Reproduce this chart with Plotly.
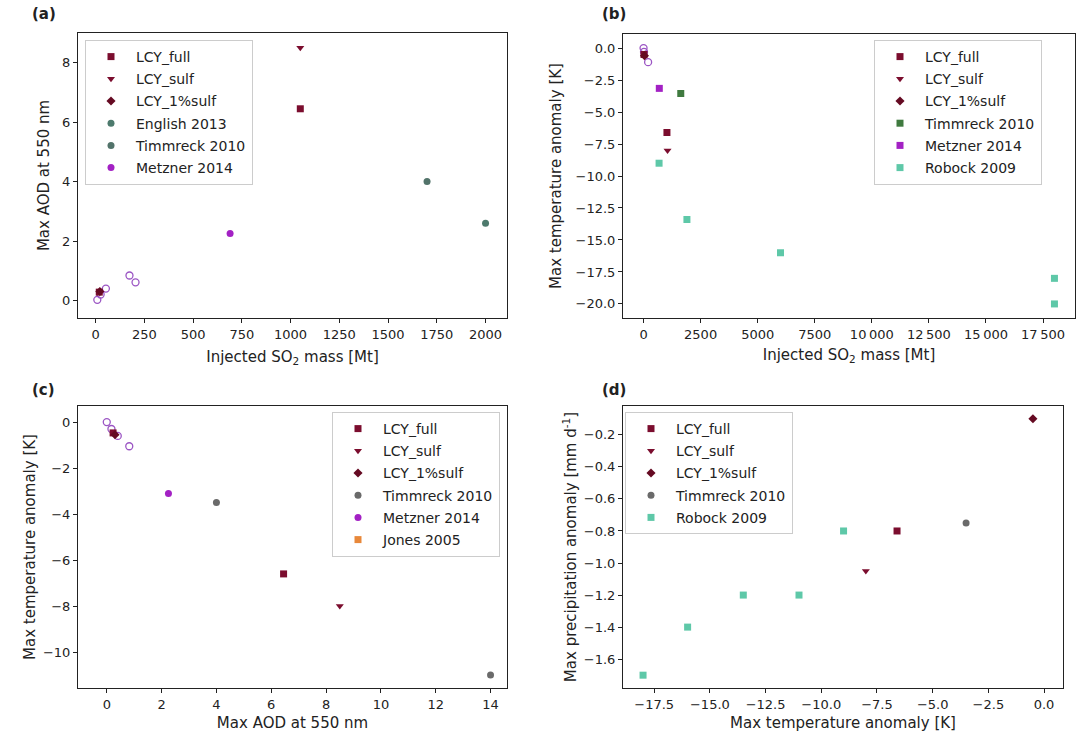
import plotly.graph_objects as go

# ---------------- data ----------------
# panel (a): injected SO2 [Mt] vs max AOD
a_full_so2 = [1050, 19]
a_full_aod = [6.45, 0.28]
a_sulf_so2 = [1050]
a_sulf_aod = [8.5]
a_1pc_so2 = [22]
a_1pc_aod = [0.3]
a_english_so2 = [2000]
a_english_aod = [2.6]
a_timm_so2 = [1700]
a_timm_aod = [4.0]
a_metz_so2 = [690]
a_metz_aod = [2.25]
a_open_so2 = [9, 26, 53, 174, 205]
a_open_aod = [0.02, 0.2, 0.4, 0.84, 0.61]

# panel (b): injected SO2 [Mt] vs max temperature anomaly
b_full_so2 = [1025, 20]
b_full_dT = [-6.6, -0.5]
b_sulf_so2 = [1050]
b_sulf_dT = [-8.0]
b_1pc_so2 = [40]
b_1pc_dT = [-0.6]
b_timm_so2 = [1630]
b_timm_dT = [-3.55]
b_metz_so2 = [690]
b_metz_dT = [-3.15]
b_open_so2 = [0, 20, 200]
b_open_dT = [0.0, -0.3, -1.1]
b_robock_so2 = [680, 1900, 6000, 18000, 18000]
b_robock_dT = [-9.0, -13.4, -16.0, -18.0, -20.0]

# panel (c): max AOD vs max temperature anomaly
c_full_aod = [6.45, 0.23]
c_full_dT = [-6.6, -0.47]
c_sulf_aod = [8.5]
c_sulf_dT = [-8.0]
c_1pc_aod = [0.3]
c_1pc_dT = [-0.55]
c_timm_aod = [4.0, 14.0]
c_timm_dT = [-3.5, -11.0]
c_metz_aod = [2.25]
c_metz_dT = [-3.1]
c_open_aod = [0.0, 0.17, 0.4, 0.82]
c_open_dT = [0.0, -0.3, -0.6, -1.05]
c_jones_aod = []
c_jones_dT = []

# panel (d): max temperature anomaly vs max precipitation anomaly
d_full_dT = [-6.6]
d_full_P = [-0.8]
d_sulf_dT = [-8.0]
d_sulf_P = [-1.05]
d_1pc_dT = [-0.5]
d_1pc_P = [-0.1]
d_timm_dT = [-3.5]
d_timm_P = [-0.75]
d_robock_dT = [-18.0, -16.0, -13.5, -11.0, -9.0]
d_robock_P = [-1.7, -1.4, -1.2, -1.2, -0.8]

b_xticks = [0, 2500, 5000, 7500, 10000, 12500, 15000, 17500]
b_xticktext = ["0", "2500", "5000", "7500", "10\u2009000", "12\u2009500", "15\u2009000", "17\u2009500"]

# ---------------- styles ----------------
MAROON = "#7b0d2e"
DARK = "#650a22"
METZ = "#a321c4"
OPEN = "#9b55c4"
TIMM_A = "#52736a"
ENGL = "#4d7a6d"
TIMM_B = "#3f7a3f"
ROBOCK = "#5ec8a8"
TIMM_CD = "#6a6a6a"
JONES = "#e8883a"
MS = 7
FONT = "DejaVu Sans"

fig = go.Figure()


def add(x, y, name, color, symbol, xa, ya, legend, show=True, open_=False):
    if len(x) == 0:
        x, y = [None], [None]
    if open_:
        marker = dict(color=color, symbol="circle-open", size=MS, line=dict(width=1.3))
    else:
        marker = dict(color=color, symbol=symbol, size=MS, line=dict(width=0))
    fig.add_trace(go.Scatter(x=x, y=y, mode="markers", name=name, marker=marker,
                             xaxis=xa, yaxis=ya, legend=legend, showlegend=show,
                             legendgroup=legend + name))


# (a)
add(a_open_so2, a_open_aod, "open", OPEN, "circle", "x", "y", "legend", show=False, open_=True)
add(a_full_so2, a_full_aod, "LCY_full", MAROON, "square", "x", "y", "legend")
add(a_sulf_so2, a_sulf_aod, "LCY_sulf", MAROON, "triangle-down", "x", "y", "legend")
add(a_1pc_so2, a_1pc_aod, "LCY_1%sulf", DARK, "diamond", "x", "y", "legend")
add(a_english_so2, a_english_aod, "English 2013", ENGL, "circle", "x", "y", "legend")
add(a_timm_so2, a_timm_aod, "Timmreck 2010", TIMM_A, "circle", "x", "y", "legend")
add(a_metz_so2, a_metz_aod, "Metzner 2014", METZ, "circle", "x", "y", "legend")

# (b)
add(b_open_so2, b_open_dT, "open", OPEN, "circle", "x2", "y2", "legend2", show=False, open_=True)
add(b_full_so2, b_full_dT, "LCY_full", MAROON, "square", "x2", "y2", "legend2")
add(b_sulf_so2, b_sulf_dT, "LCY_sulf", MAROON, "triangle-down", "x2", "y2", "legend2")
add(b_1pc_so2, b_1pc_dT, "LCY_1%sulf", DARK, "diamond", "x2", "y2", "legend2")
add(b_timm_so2, b_timm_dT, "Timmreck 2010", TIMM_B, "square", "x2", "y2", "legend2")
add(b_metz_so2, b_metz_dT, "Metzner 2014", METZ, "square", "x2", "y2", "legend2")
add(b_robock_so2, b_robock_dT, "Robock 2009", ROBOCK, "square", "x2", "y2", "legend2")

# (c)
add(c_open_aod, c_open_dT, "open", OPEN, "circle", "x3", "y3", "legend3", show=False, open_=True)
add(c_full_aod, c_full_dT, "LCY_full", MAROON, "square", "x3", "y3", "legend3")
add(c_sulf_aod, c_sulf_dT, "LCY_sulf", MAROON, "triangle-down", "x3", "y3", "legend3")
add(c_1pc_aod, c_1pc_dT, "LCY_1%sulf", DARK, "diamond", "x3", "y3", "legend3")
add(c_timm_aod, c_timm_dT, "Timmreck 2010", TIMM_CD, "circle", "x3", "y3", "legend3")
add(c_metz_aod, c_metz_dT, "Metzner 2014", METZ, "circle", "x3", "y3", "legend3")
add(c_jones_aod, c_jones_dT, "Jones 2005", JONES, "square", "x3", "y3", "legend3")

# (d)
add(d_full_dT, d_full_P, "LCY_full", MAROON, "square", "x4", "y4", "legend4")
add(d_sulf_dT, d_sulf_P, "LCY_sulf", MAROON, "triangle-down", "x4", "y4", "legend4")
add(d_1pc_dT, d_1pc_P, "LCY_1%sulf", DARK, "diamond", "x4", "y4", "legend4")
add(d_timm_dT, d_timm_P, "Timmreck 2010", TIMM_CD, "circle", "x4", "y4", "legend4")
add(d_robock_dT, d_robock_P, "Robock 2009", ROBOCK, "square", "x4", "y4", "legend4")

W, H = 1083, 735


def px_x(a, b):
    return [a / W, b / W]


def px_y(top, bottom):
    return [1 - bottom / H, 1 - top / H]


axis_common = dict(showline=True, linecolor="#222", linewidth=1, mirror=True,
                   ticks="outside", ticklen=4, tickcolor="#222", showgrid=False,
                   zeroline=False, tickfont=dict(size=13, color="#222", family=FONT),
                   title_font=dict(size=15, color="#222", family=FONT))

fig.update_layout(
    width=W, height=H, margin=dict(l=0, r=0, t=0, b=0),
    plot_bgcolor="white", paper_bgcolor="white",
    font=dict(family=FONT, size=14, color="#222"),
    xaxis=dict(domain=px_x(78, 507), range=[-90, 2110], anchor="y",
               tickvals=[0, 250, 500, 750, 1000, 1250, 1500, 1750, 2000],
               title=dict(text="Injected SO<sub>2</sub> mass [Mt]", standoff=10), **axis_common),
    yaxis=dict(domain=px_y(33, 318), range=[-0.59, 9.0], anchor="x",
               tickvals=[0, 2, 4, 6, 8], title=dict(text="Max AOD at 550 nm", standoff=8),
               **axis_common),
    xaxis2=dict(domain=px_x(623, 1075), range=[-900, 18900], anchor="y2",
                tickvals=b_xticks, ticktext=b_xticktext,
                title=dict(text="Injected SO<sub>2</sub> mass [Mt]", standoff=8), **axis_common),
    yaxis2=dict(domain=px_y(34, 318), range=[-21.1, 1.1], anchor="x2",
                tickvals=[0, -2.5, -5, -7.5, -10, -12.5, -15, -17.5, -20], tickformat=".1f",
                title=dict(text="Max temperature anomaly [K]", standoff=10), **axis_common),
    xaxis3=dict(domain=px_x(78, 507), range=[-1.05, 14.6], anchor="y3",
                tickvals=[0, 2, 4, 6, 8, 10, 12, 14],
                title=dict(text="Max AOD at 550 nm", standoff=6), **axis_common),
    yaxis3=dict(domain=px_y(406, 688), range=[-11.56, 0.7], anchor="x3",
                tickvals=[0, -2, -4, -6, -8, -10],
                title=dict(text="Max temperature anomaly [K]", standoff=3), **axis_common),
    xaxis4=dict(domain=px_x(623, 1063), range=[-18.9, 0.85], anchor="y4",
                tickvals=[-17.5, -15, -12.5, -10, -7.5, -5, -2.5, 0], tickformat=".1f",
                title=dict(text="Max temperature anomaly [K]", standoff=6), **axis_common),
    yaxis4=dict(domain=px_y(406, 688), range=[-1.78, -0.02], anchor="x4",
                tickvals=[-0.2, -0.4, -0.6, -0.8, -1.0, -1.2, -1.4, -1.6], tickformat=".1f",
                title=dict(text="Max precipitation anomaly [mm d<sup>-1</sup>]", standoff=3),
                **axis_common),
)

leg_common = dict(bgcolor="rgba(255,255,255,0.9)", bordercolor="#cccccc", borderwidth=1,
                  font=dict(size=14, family=FONT, color="#222"), tracegroupgap=1,
                  itemwidth=40)
fig.update_layout(
    legend=dict(x=85 / W, y=1 - 40 / H, xanchor="left", yanchor="top", **leg_common),
    legend2=dict(x=1042 / W, y=1 - 40 / H, xanchor="right", yanchor="top", **leg_common),
    legend3=dict(x=500 / W, y=1 - 412 / H, xanchor="right", yanchor="top", **leg_common),
    legend4=dict(x=625 / W, y=1 - 412 / H, xanchor="left", yanchor="top", **leg_common),
)

for txt, xp, yp in [("(a)", 30, 14), ("(b)", 600, 14), ("(c)", 30, 390), ("(d)", 600, 390)]:
    fig.add_annotation(text="<b>%s</b>" % txt, x=xp / W, y=1 - yp / H, xref="paper",
                       yref="paper", showarrow=False, xanchor="left", yanchor="middle",
                       font=dict(size=15, family=FONT, color="#222"))

fig.write_html("out.html")
